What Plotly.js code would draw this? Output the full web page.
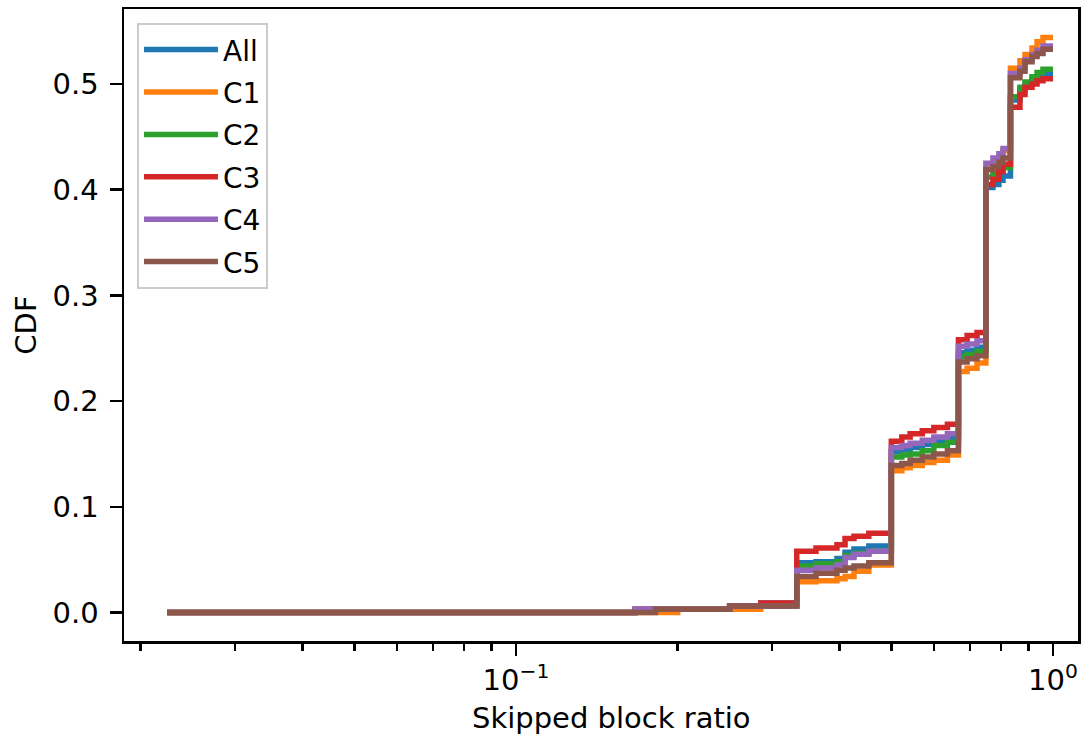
<!DOCTYPE html>
<html>
<head>
<meta charset="utf-8">
<script src="https://cdn.plot.ly/plotly-3.0.1.min.js"></script>
<style>
html,body{margin:0;padding:0;background:#fff;}
#chart{width:1082px;height:734px;}
</style>
</head>
<body>
<div id="chart"></div>
<script>
// Step positions (skipped block ratio) shared by all series
const ratio = [0.0224, 0.1667, 0.1818, 0.2, 0.25, 0.2857, 0.3333, 0.362, 0.396, 0.41, 0.426, 0.454,
  0.5, 0.523, 0.542, 0.571, 0.6, 0.636, 0.6667, 0.692, 0.722, 0.75, 0.773, 0.793, 0.807,
  0.8333, 0.868, 0.887, 0.914, 0.934, 0.958, 1.0];

const seriesNames = ["All", "C1", "C2", "C3", "C4", "C5"];
const seriesColors = ["#1f77b4", "#ff7f0e", "#2ca02c", "#d62728", "#9467bd", "#8c564b"];

const cdfAll = [0, 0.003, 0.003, 0.003, 0.006, 0.009,
  0.047, 0.048, 0.051, 0.057, 0.060, 0.063,
  0.152, 0.154, 0.156, 0.159, 0.162, 0.165,
  0.246, 0.248, 0.251,
  0.402, 0.405, 0.409, 0.413,
  0.485, 0.495, 0.500, 0.504, 0.507, 0.510, 0.510];
const cdfC1 = [0, 0, 0, 0.003, 0.003, 0.006,
  0.029, 0.030, 0.032, 0.034, 0.039, 0.045,
  0.134, 0.137, 0.139, 0.142, 0.144, 0.149,
  0.228, 0.231, 0.236,
  0.420, 0.425, 0.431, 0.437,
  0.515, 0.522, 0.528, 0.534, 0.540, 0.544, 0.544];
const cdfC2 = [0, 0.002, 0.003, 0.003, 0.006, 0.006,
  0.044, 0.046, 0.048, 0.054, 0.056, 0.058,
  0.147, 0.149, 0.150, 0.153, 0.158, 0.161,
  0.242, 0.244, 0.247,
  0.412, 0.415, 0.418, 0.421,
  0.488, 0.497, 0.502, 0.507, 0.511, 0.514, 0.514];
const cdfC3 = [0, 0.003, 0.003, 0.003, 0.006, 0.009,
  0.058, 0.061, 0.064, 0.070, 0.072, 0.075,
  0.162, 0.166, 0.169, 0.172, 0.175, 0.178,
  0.258, 0.262, 0.265,
  0.405, 0.410, 0.417, 0.424,
  0.478, 0.490, 0.497, 0.500, 0.503, 0.505, 0.505];
const cdfC4 = [0, 0.003, 0.003, 0.003, 0.006, 0.006,
  0.040, 0.042, 0.045, 0.052, 0.055, 0.058,
  0.156, 0.158, 0.160, 0.163, 0.166, 0.169,
  0.252, 0.254, 0.257,
  0.425, 0.430, 0.434, 0.439,
  0.510, 0.515, 0.523, 0.528, 0.532, 0.536, 0.536];
const cdfC5 = [0, 0, 0.003, 0.003, 0.006, 0.006,
  0.034, 0.037, 0.040, 0.042, 0.044, 0.047,
  0.139, 0.141, 0.144, 0.147, 0.150, 0.153,
  0.237, 0.240, 0.243,
  0.419, 0.422, 0.426, 0.430,
  0.506, 0.512, 0.521, 0.526, 0.529, 0.533, 0.533];

const yTicks = [0.0, 0.1, 0.2, 0.3, 0.4, 0.5];
const xMajorTicks = [0.1, 1];
const xMajorLabels = ["10<sup>\u22121</sup>", "10<sup>0</sup>"];
const xMinorTicks = [0.02, 0.03, 0.04, 0.05, 0.06, 0.07, 0.08, 0.09, 0.2, 0.3, 0.4, 0.5, 0.6, 0.7, 0.8, 0.9];

const allCdfs = [cdfAll, cdfC1, cdfC2, cdfC3, cdfC4, cdfC5];

const traces = allCdfs.map((ys, i) => ({
  type: "scatter",
  mode: "lines",
  x: ratio,
  y: ys,
  name: seriesNames[i],
  legendgroup: seriesNames[i],
  line: {color: seriesColors[i], width: 5.5, shape: "hv"}
}));

const FF = "DejaVu Sans, sans-serif";

const layout = {
  width: 1082, height: 734,
  margin: {l: 124, r: 4, t: 9, b: 93},
  paper_bgcolor: "#fff", plot_bgcolor: "#fff",
  font: {family: FF, size: 29, color: "#000"},
  showlegend: true,
  legend: {
    x: 0.0136, y: 0.978, xanchor: "left", yanchor: "top",
    bgcolor: "#fff", bordercolor: "#cccccc", borderwidth: 2,
    font: {family: FF, size: 28, color: "#000"},
    itemwidth: 74,
    tracegroupgap: 3
  },
  xaxis: {
    type: "log",
    range: [-1.73, 0.0466],
    showgrid: false, zeroline: false,
    showline: true, mirror: true, linecolor: "#000", linewidth: 2.5,
    ticks: "outside", ticklen: 12, tickwidth: 2.5, tickcolor: "#000",
    tickmode: "array", tickvals: xMajorTicks, ticktext: xMajorLabels,
    tickfont: {family: FF, size: 29, color: "#000"},
    minor: {tickmode: "array", tickvals: xMinorTicks, ticks: "outside", ticklen: 7, tickwidth: 2.5, tickcolor: "#000", showgrid: false}
  },
  yaxis: {
    range: [-0.027, 0.571],
    showgrid: false, zeroline: false,
    showline: true, mirror: true, linecolor: "#000", linewidth: 2.5,
    ticks: "outside", ticklen: 12, tickwidth: 2.5, tickcolor: "#000",
    tickmode: "array", tickvals: yTicks, tickformat: ".1f",
    ticklabelstandoff: 5,
    tickfont: {family: FF, size: 29, color: "#000"},
    title: {text: "CDF", font: {family: FF, size: 29, color: "#000"}, standoff: 8}
  },
  annotations: [{
    text: "Skipped block ratio",
    xref: "paper", yref: "paper",
    x: 0.5105, y: -0.1218,
    xanchor: "center", yanchor: "middle",
    showarrow: false,
    font: {family: FF, size: 29, color: "#000"}
  }]
};

Plotly.newPlot("chart", traces, layout, {displayModeBar: false, staticPlot: true});
</script>
</body>
</html>
